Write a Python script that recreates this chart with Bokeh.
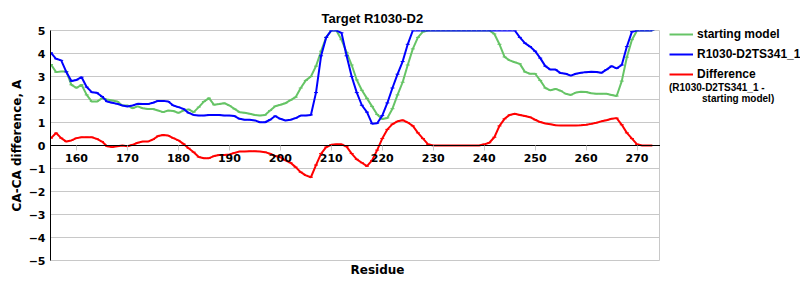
import numpy as np
from bokeh.plotting import figure
from bokeh.layouts import row
from bokeh.models import (LinearAxis, FixedTicker, Legend, LegendItem,
                          Title, Range1d, ColumnDataSource)
from bokeh.embed import file_html
from bokeh.resources import INLINE

residues = list(range(155, 274))

starting_model = [
    3.52, 3.19, 3.22, 3.22, 2.64, 2.51, 2.64, 2.20, 1.91, 1.91,
    2.05, 2.00, 1.96, 1.91, 1.74, 1.74, 1.62, 1.70, 1.62, 1.59,
    1.59, 1.52, 1.45, 1.52, 1.50, 1.42, 1.52, 1.57, 1.45, 1.67,
    1.91, 2.06, 1.77, 1.80, 1.84, 1.74, 1.59, 1.45, 1.42, 1.38,
    1.33, 1.30, 1.33, 1.52, 1.71, 1.77, 1.84, 1.97, 2.10, 2.50,
    2.83, 3.00, 3.45, 4.10, 4.70, 5.00, 5.00, 4.60, 4.05, 3.50,
    2.85, 2.40, 2.05, 1.70, 1.35, 1.15, 1.20, 1.60, 2.20, 2.75,
    3.50, 4.20, 4.70, 4.95, 5.00, 5.00, 5.00, 5.00, 5.00, 5.00,
    5.00, 5.00, 5.00, 5.00, 5.00, 5.00, 5.00, 4.85, 4.40, 3.85,
    3.70, 3.62, 3.55, 3.20, 3.12, 3.12, 2.83, 2.50, 2.40, 2.46,
    2.38, 2.25, 2.20, 2.30, 2.34, 2.33, 2.27, 2.25, 2.25, 2.25,
    2.20, 2.15, 2.80, 3.84, 4.60, 5.00, 5.00, 5.00, 5.00,
]

model_341 = [
    4.03, 3.77, 3.70, 3.20, 2.80, 2.85, 2.97, 2.54, 2.32, 2.29,
    2.13, 1.91, 1.86, 1.81, 1.74, 1.70, 1.74, 1.81, 1.80, 1.80,
    1.86, 1.94, 1.94, 1.91, 1.74, 1.67, 1.59, 1.42, 1.33, 1.30,
    1.30, 1.33, 1.33, 1.33, 1.30, 1.30, 1.28, 1.16, 1.12, 1.12,
    1.09, 1.01, 1.01, 1.12, 1.28, 1.16, 1.09, 1.12, 1.19, 1.30,
    1.30, 1.33, 2.30, 3.90, 4.70, 5.00, 5.00, 4.90, 3.90, 3.00,
    2.30, 1.75, 1.45, 0.95, 0.97, 1.30, 1.85, 2.50, 3.10, 3.65,
    4.40, 5.00, 5.00, 5.00, 5.00, 5.00, 5.00, 5.00, 5.00, 5.00,
    5.00, 5.00, 5.00, 5.00, 5.00, 5.00, 5.00, 5.00, 5.00, 5.00,
    5.00, 5.00, 4.70, 4.45, 4.30, 4.10, 3.80, 3.45, 3.30, 3.30,
    3.15, 3.12, 3.04, 3.12, 3.16, 3.19, 3.21, 3.20, 3.16, 3.30,
    3.45, 3.35, 3.50, 4.30, 4.95, 5.00, 5.00, 5.00, 5.00,
]

difference = [
    0.32, 0.54, 0.32, 0.17, 0.22, 0.32, 0.36, 0.36, 0.36, 0.29,
    0.17, -0.03, -0.07, -0.03, 0.00, -0.03, 0.03, 0.12, 0.17, 0.17,
    0.26, 0.41, 0.46, 0.43, 0.32, 0.22, 0.07, -0.12, -0.29, -0.50,
    -0.55, -0.55, -0.46, -0.41, -0.41, -0.39, -0.32, -0.26, -0.26, -0.25,
    -0.25, -0.26, -0.29, -0.36, -0.46, -0.51, -0.65, -0.75, -0.94, -1.16,
    -1.30, -1.38, -0.85, -0.35, -0.07, 0.03, 0.05, 0.05, -0.05, -0.35,
    -0.60, -0.75, -0.90, -0.65, -0.20, 0.30, 0.70, 0.93, 1.05, 1.10,
    1.00, 0.85, 0.55, 0.30, 0.05, 0.00, 0.00, 0.00, 0.00, 0.00,
    0.00, 0.00, 0.00, 0.00, 0.00, 0.05, 0.12, 0.36, 0.85, 1.16,
    1.33, 1.38, 1.33, 1.28, 1.23, 1.12, 1.02, 0.96, 0.92, 0.88,
    0.87, 0.87, 0.87, 0.87, 0.88, 0.90, 0.94, 0.99, 1.05, 1.10,
    1.16, 1.19, 0.90, 0.55, 0.30, 0.05, 0.00, 0.00, 0.00,
]

x_ticks = [160, 170, 180, 190, 200, 210, 220, 230, 240, 250, 260, 270]
y_ticks = [-5, -4, -3, -2, -1, 0, 1, 2, 3, 4, 5]
y_tick_labels = {v: (("\u2212" + str(-v)) if v < 0 else str(v)) for v in y_ticks}

title_text = "Target R1030-D2"
series_names = ["starting model", "R1030-D2TS341_1", "Difference"]
diff_note = ["(R1030-D2TS341_1 -", "starting model)"]

GREEN = "#66c466"
BLUE = "#0000ff"
RED = "#ff0000"
GRID = "#c8c8c8"
TICK_FONT = "DejaVu Sans"
LEG_FONT = "Liberation Sans"

src = ColumnDataSource(dict(x=residues, g=starting_model, b=model_341, d=difference))

# ---------------- main chart (660 x 300, frame 610 x 230 at (50, 30)) ----------------
p = figure(width=660, height=300, x_range=Range1d(154.9, 274.6), y_range=Range1d(-5, 5),
           x_axis_location=None, toolbar_location=None, output_backend="svg",
           min_border_left=50, min_border_right=0, min_border_top=30, min_border_bottom=40)
p.frame_align = False
p.background_fill_color = "white"
p.border_fill_color = "white"
p.outline_line_color = GRID
p.outline_line_width = 1
p.xgrid.visible = False
p.ygrid.grid_line_color = GRID
p.ygrid.grid_line_width = 1

yax = p.yaxis[0]
yax.ticker = FixedTicker(ticks=y_ticks)
yax.major_label_overrides = y_tick_labels
yax.axis_line_color = "black"
yax.axis_line_width = 1
yax.major_tick_line_color = None
yax.major_tick_in = 0
yax.major_tick_out = 0
yax.minor_tick_line_color = None
yax.minor_tick_out = 0
yax.major_label_standoff = 5
yax.major_label_text_font = TICK_FONT
yax.major_label_text_font_style = "bold"
yax.major_label_text_font_size = "11px"
yax.major_label_text_color = "black"
yax.axis_label = "CA-CA difference, A"
yax.axis_label_text_font = TICK_FONT
yax.axis_label_text_font_style = "bold"
yax.axis_label_text_font_size = "12px"
yax.axis_label_text_color = "black"
yax.axis_label_standoff = 2

xax = LinearAxis(fixed_location=0, ticker=FixedTicker(ticks=x_ticks))
xax.axis_line_color = "black"
xax.axis_line_width = 1
xax.major_tick_in = 0
xax.major_tick_out = 5
xax.major_tick_line_color = GRID
xax.minor_tick_line_color = None
xax.major_label_standoff = 3
xax.major_label_text_font = TICK_FONT
xax.major_label_text_font_style = "bold"
xax.major_label_text_font_size = "11px"
xax.major_label_text_color = "black"
p.add_layout(xax, "below")

p.line("x", "g", source=src, color=GREEN, line_width=2)
p.scatter("x", "g", source=src, marker="dash", size=4, line_color=GREEN, line_width=1)
p.line("x", "b", source=src, color=BLUE, line_width=2)
p.scatter("x", "b", source=src, marker="dash", size=4, line_color=BLUE, line_width=1)
p.line("x", "d", source=src, color=RED, line_width=2)
p.scatter("x", "d", source=src, marker="dash", size=4, line_color=RED, line_width=1)

p.add_layout(Title(text=title_text, align="left", offset=271, text_font=LEG_FONT,
                   text_font_style="bold", text_font_size="13px", text_color="black"), "above")
p.add_layout(Title(text="Residue", align="left", offset=300, vertical_align="top", standoff=4,
                   text_font=TICK_FONT, text_font_style="bold", text_font_size="12px",
                   text_color="black"), "below")

# ---------------- legend panel (140 x 300) ----------------
# its view range excludes every residue, so the carrier renderers draw nothing here
q = figure(width=140, height=300, x_range=Range1d(0, 1), y_range=Range1d(0, 1),
           x_axis_location=None, y_axis_location=None,
           toolbar_location=None, output_backend="svg",
           min_border_left=0, min_border_right=0, min_border_top=0, min_border_bottom=0)
q.frame_align = False
q.outline_line_color = None
q.xgrid.visible = False
q.ygrid.visible = False
q.background_fill_color = "white"
q.border_fill_color = "white"

kg = [q.line("x", "g", source=src, color=GREEN, line_width=2),
      q.scatter("x", "g", source=src, marker="dash", size=4, line_color=GREEN, line_width=1)]
kb = [q.line("x", "b", source=src, color=BLUE, line_width=2),
      q.scatter("x", "b", source=src, marker="dash", size=4, line_color=BLUE, line_width=1)]
kr = [q.line("x", "d", source=src, color=RED, line_width=2),
      q.scatter("x", "d", source=src, marker="dash", size=4, line_color=RED, line_width=1)]
ghost = q.line("x", "d", source=src, line_alpha=0)


def style_legend(lgd, size, gw, gh, standoff):
    lgd.border_line_color = None
    lgd.background_fill_alpha = 0
    lgd.padding = 0
    lgd.margin = 0
    lgd.spacing = 0
    lgd.glyph_width = gw
    lgd.glyph_height = gh
    lgd.label_height = gh
    lgd.label_standoff = standoff
    lgd.label_text_font = LEG_FONT
    lgd.label_text_font_style = "bold"
    lgd.label_text_font_size = size
    lgd.label_text_color = "black"


# location = offset of legend's bottom-left corner from the panel's bottom-left corner
legend = Legend(items=[
    LegendItem(label=series_names[0], renderers=kg),
    LegendItem(label=series_names[1], renderers=kb),
    LegendItem(label=series_names[2], renderers=kr),
], location=(9, 216), orientation="vertical")
style_legend(legend, "12px", 24, 20, 4)
q.add_layout(legend, "center")

note1 = Legend(items=[LegendItem(label=diff_note[0], renderers=[ghost])], location=(9, 207))
style_legend(note1, "10px", 0, 11, 0)
note2 = Legend(items=[LegendItem(label=diff_note[1], renderers=[ghost])], location=(42, 196))
style_legend(note2, "10px", 0, 11, 0)
q.add_layout(note1, "center")
q.add_layout(note2, "center")

layout = row(p, q, spacing=0)
open("out.html", "w").write(file_html(layout, INLINE))
